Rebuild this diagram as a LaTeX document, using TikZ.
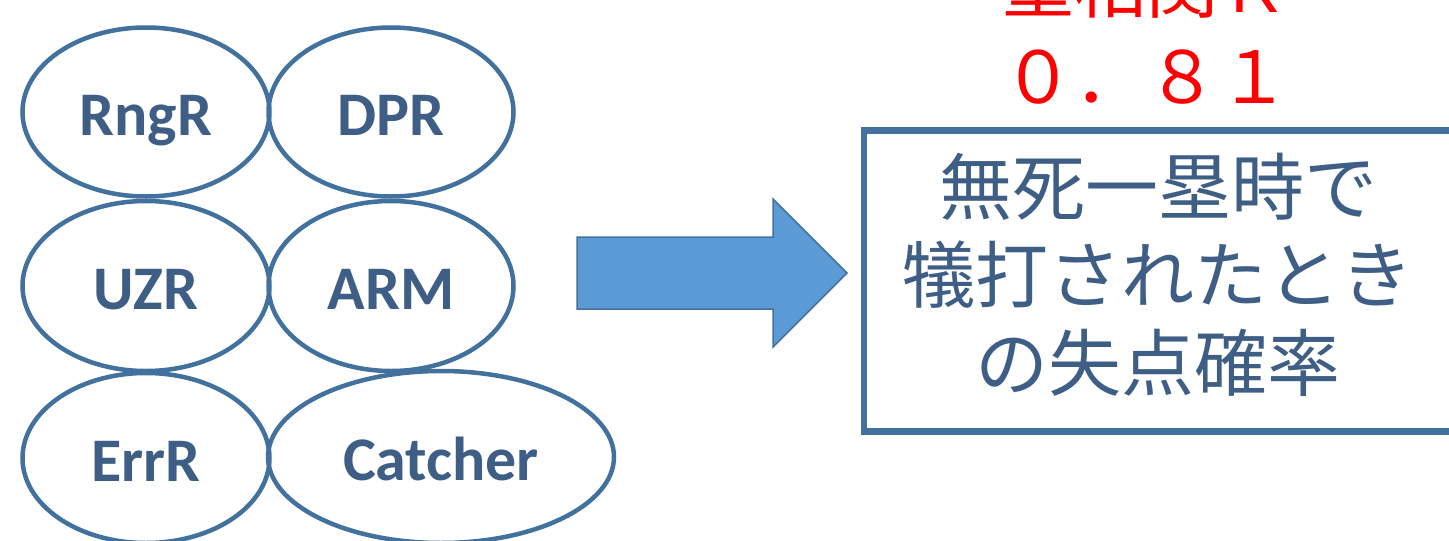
\documentclass[tikz,border=0pt]{standalone}
\usepackage{fontspec}
\usetikzlibrary{shapes.geometric}
\newfontfamily\carl{Carlito}
\newfontfamily\cjk{Noto Sans CJK JP}
\definecolor{edge}{HTML}{41719C}
\definecolor{txt}{HTML}{3F5E86}
\definecolor{arrowfill}{HTML}{5B9BD5}
\definecolor{redtxt}{HTML}{FF0000}
\tikzset{
  bubble/.style={ellipse, draw=edge, line width=4.5pt, inner sep=0pt, text=txt,
    text height=46pt, text depth=0pt,
    font=\carl\bfseries\fontsize{62}{70}\selectfont},
  jtext/.style={text=txt, align=center, inner sep=0pt,
    font=\cjk\fontsize{73}{88}\selectfont},
  rtext/.style={text=redtxt, inner sep=0pt, anchor=base,
    font=\cjk\fontsize{72}{88}\selectfont}
}
\begin{document}
\begin{tikzpicture}[x=1pt,y=-1pt]
\useasboundingbox (0,0) rectangle (1449,541);
\node[bubble, minimum width=247, minimum height=169] (rngr) at (146,112) {RngR};
\node[bubble, minimum width=245, minimum height=169] (dpr) at (391,112) {DPR};
\node[bubble, minimum width=247, minimum height=170] (uzr) at (146,286) {UZR};
\node[bubble, minimum width=245, minimum height=170] (arm) at (391,286) {ARM};
\node[bubble, minimum width=247, minimum height=170] (errr) at (146,458) {ErrR};
\node[bubble, minimum width=346, minimum height=172] (catcher) at (441,457) {Catcher};
% block arrow
\draw[fill=arrowfill, draw=edge, line width=1.5pt, line join=miter]
  (577,237) -- (773,237) -- (773,199) -- (847,273) -- (773,347) -- (773,309) -- (577,309) -- cycle;
% result box
\draw[draw=edge, line width=6.5pt] (1475,130.5) -- (864,130.5) -- (864,431.5) -- (1475,431.5);
\node[jtext] (result) at (1158,275) {無死一塁時で\\犠打されたとき\\の失点確率};
\node[rtext] (title) at (1146,12) {重相関Ｒ};
\node[rtext] (value) at (1146,103) {０．８１};
\end{tikzpicture}
\end{document}
